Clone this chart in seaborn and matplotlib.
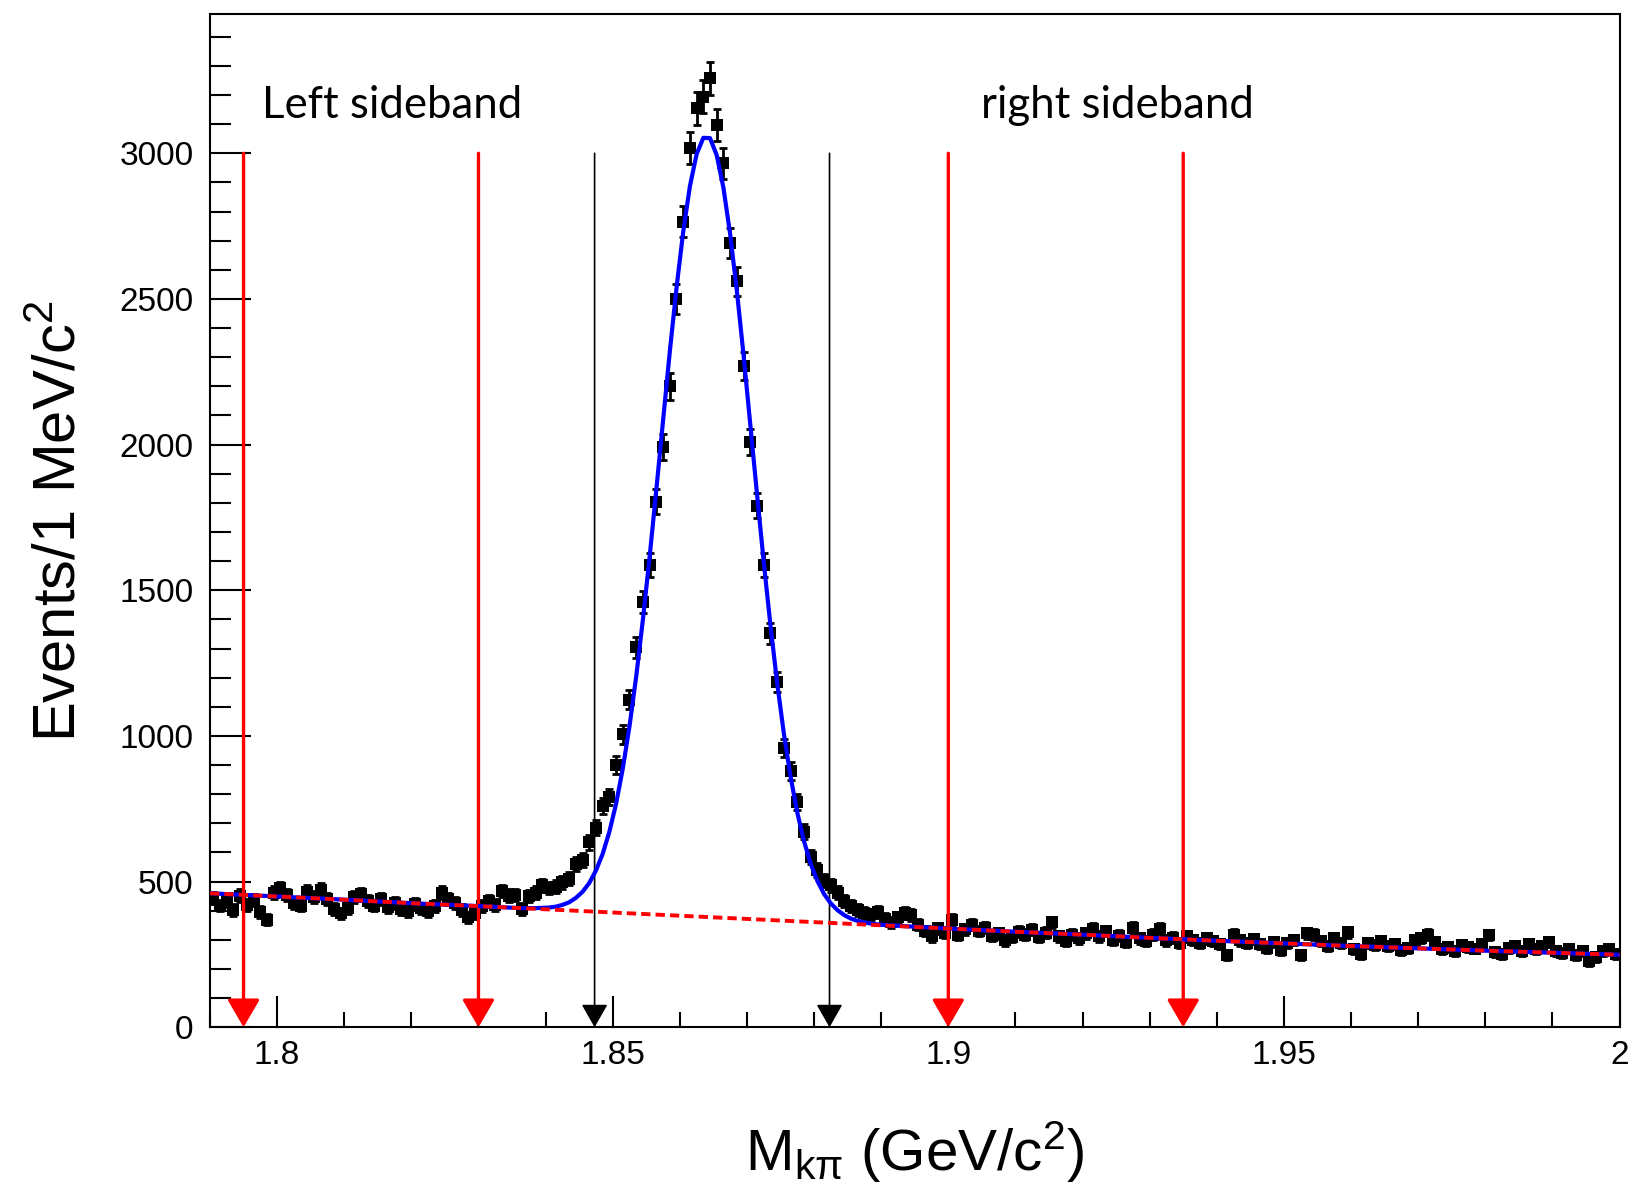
import numpy as np
import pandas as pd
import matplotlib
matplotlib.use("Agg")
import matplotlib.pyplot as plt
from matplotlib.ticker import MultipleLocator, FixedLocator, FixedFormatter
import seaborn as sns

# ---------------- data ----------------
bin_low = 1.790
bin_width = 0.001
counts = [
    445, 418, 432, 402, 452, 421, 438, 396, 370, 462,
    478, 455, 428, 418, 466, 447, 472, 441, 405, 391,
    410, 448, 456, 432, 418, 440, 412, 425, 405, 398,
    422, 408, 398, 415, 462, 440, 428, 402, 378, 392,
    415, 432, 420, 468, 452, 455, 405, 450, 462, 488,
    478, 482, 498, 510, 560, 575, 635, 685, 760, 790,
    900, 1005, 1125, 1305, 1460, 1587, 1804, 1993, 2200, 2500,
    2765, 3017, 3154, 3194, 3257, 3097, 2965, 2691, 2560, 2270,
    2010, 1790, 1587, 1352, 1186, 960, 880, 774, 671, 586,
    540, 505, 488, 462, 432, 415, 402, 392, 388, 395,
    372, 360, 378, 392, 385, 352, 330, 312, 340, 325,
    368, 318, 336, 352, 330, 342, 315, 322, 298, 310,
    328, 318, 335, 310, 325, 360, 312, 296, 318, 305,
    322, 338, 312, 330, 300, 315, 292, 342, 305, 296,
    318, 338, 298, 308, 290, 312, 300, 288, 305, 295,
    285, 248, 318, 298, 290, 302, 286, 272, 292, 265,
    288, 300, 248, 322, 318, 296, 280, 305, 290, 326,
    268, 252, 290, 282, 296, 278, 286, 265, 272, 298,
    306, 318, 292, 268, 275, 262, 282, 276, 270, 285,
    316, 258, 250, 272, 280, 262, 286, 268, 278, 292,
    262, 255, 270, 248, 262, 226, 240, 262, 268, 252,
]

# background fit (red dashed), knots every 10 MeV
bkg_x = [1.79, 1.80, 1.81, 1.82, 1.83, 1.84, 1.85, 1.86, 1.87, 1.88, 1.89,
         1.90, 1.91, 1.92, 1.93, 1.94, 1.95, 1.96, 1.97, 1.98, 1.99, 2.00]
bkg_y = [460, 449, 438, 426, 416, 405, 394, 383, 372, 361, 350,
         339, 328, 318, 307, 297, 288, 279, 271, 263, 256, 249]

# total fit (blue) sampled at bin centres across the peak, 1.8345 ... 1.8905
peak_fit_start = 1.8345
peak_fit = [
    411, 410, 409, 409, 409, 410, 411, 414, 420, 429,
    444, 465, 495, 538, 595, 671, 767, 888, 1033, 1204,
    1400, 1615, 1846, 2082, 2318, 2537, 2730, 2887, 2997, 3053,
    3052, 2993, 2881, 2722, 2527, 2306, 2068, 1830, 1597, 1380,
    1182, 1008, 860, 737, 639, 561, 502, 457, 425, 402,
    385, 373, 365, 360, 356, 353, 351,
]

sideband_edges = [1.795, 1.830, 1.900, 1.935]
signal_edges = [1.8473, 1.8823]
arrow_top = 3000

x_ticks = [1.80, 1.85, 1.90, 1.95, 2.00]
x_ticklabels = ["1.8", "1.85", "1.9", "1.95", "2"]
y_ticks = [0, 500, 1000, 1500, 2000, 2500, 3000]
y_ticklabels = ["0", "500", "1000", "1500", "2000", "2500", "3000"]
x_range = (1.79, 2.00)
y_range = (0, 3478)

# ---------------- frame ----------------
centers = bin_low + bin_width * (np.arange(len(counts)) + 0.5)
df = pd.DataFrame({"mass": centers, "events": counts})

pk_x = peak_fit_start + bin_width * np.arange(len(peak_fit))
bx = np.array(bkg_x)
by = np.array(bkg_y)
left = bx < pk_x[0]
right = bx > pk_x[-1]
fit_df = pd.DataFrame({
    "mass": np.concatenate([bx[left], pk_x, bx[right]]),
    "events": np.concatenate([by[left], np.array(peak_fit, float), by[right]]),
})
bkg_df = pd.DataFrame({"mass": bx, "events": by})

sns.set_style("white")
plt.rcParams["font.family"] = ["Liberation Sans", "DejaVu Sans"]
plt.rcParams["mathtext.fontset"] = "custom"
plt.rcParams["mathtext.rm"] = "Liberation Sans"
plt.rcParams["mathtext.it"] = "Liberation Sans:italic"
plt.rcParams["mathtext.default"] = "regular"
plt.rcParams["text.color"] = "black"
plt.rcParams["axes.labelcolor"] = "black"
plt.rcParams["xtick.color"] = "black"
plt.rcParams["ytick.color"] = "black"

W, H = 1632, 1191
fig = plt.figure(figsize=(W / 100, H / 100), dpi=100)
ax_l, ax_r, ax_t, ax_b = 210, 1619.5, 14, 1027.3
ax = fig.add_axes([ax_l / W, 1 - ax_b / H, (ax_r - ax_l) / W, (ax_b - ax_t) / H])

# error bars + square markers
ax.errorbar(df["mass"], df["events"], yerr=np.sqrt(df["events"]), fmt="none",
            ecolor="black", elinewidth=2.0, capsize=3.2, capthick=2.0, zorder=2)
sns.scatterplot(data=df, x="mass", y="events", marker="s", s=72, color="black",
                edgecolor="black", linewidth=0, ax=ax, zorder=3, legend=False)

# arrows
for xv in sideband_edges:
    ax.annotate("", xy=(xv, 0), xytext=(xv, arrow_top),
                arrowprops=dict(arrowstyle="-|>,head_length=0.86,head_width=0.5",
                                color="#ff0000", lw=2.4, shrinkA=0, shrinkB=0,
                                mutation_scale=20), zorder=4)
for xv in signal_edges:
    ax.annotate("", xy=(xv, 0), xytext=(xv, arrow_top),
                arrowprops=dict(arrowstyle="-|>,head_length=0.72,head_width=0.41",
                                color="black", lw=1.2, shrinkA=0, shrinkB=0,
                                mutation_scale=20), zorder=4)

# fit curves
sns.lineplot(data=fit_df, x="mass", y="events", color="#0000ff", lw=3.0,
             ax=ax, zorder=5, sort=False)
ax.plot(bkg_df["mass"], bkg_df["events"], color="#ff0000", lw=2.8,
        linestyle=(0, (2.4, 1.3)), zorder=6)

# axes
ax.set_xlim(*x_range)
ax.set_ylim(*y_range)
ax.xaxis.set_major_locator(FixedLocator(x_ticks))
ax.xaxis.set_major_formatter(FixedFormatter(x_ticklabels))
ax.xaxis.set_minor_locator(MultipleLocator(0.01))
ax.yaxis.set_major_locator(FixedLocator(y_ticks))
ax.yaxis.set_major_formatter(FixedFormatter(y_ticklabels))
ax.yaxis.set_minor_locator(MultipleLocator(100))

ax.tick_params(axis="x", which="major", direction="in", length=22, width=1.5,
               labelsize=24, pad=9, bottom=True, top=False, colors="black")
ax.tick_params(axis="x", which="minor", direction="in", length=11, width=1.5,
               bottom=True, top=False)
ax.tick_params(axis="y", which="major", direction="in", length=29.5, width=1.5,
               labelsize=24, pad=12, left=True, right=False, colors="black")
ax.tick_params(axis="y", which="minor", direction="in", length=14.8, width=1.5,
               left=True, right=False)
for sp in ax.spines.values():
    sp.set_visible(True)
    sp.set_color("black")
    sp.set_linewidth(1.5)

ax.set_xlabel(r"M$_{\mathregular{k\pi}}$ (GeV/c$^{\mathregular{2}}$)", fontsize=42)
ax.xaxis.label.set_va("baseline")
ax.xaxis.set_label_coords(0.5, (ax_b - 1171) / (ax_b - ax_t))
ax.set_ylabel(r"Events/1 MeV/c$^{\mathregular{2}}$", fontsize=43)
ax.yaxis.label.set_va("baseline")
ax.yaxis.set_label_coords((76 - ax_l) / (ax_r - ax_l), 0.5)

ax.text((262 - ax_l) / (ax_r - ax_l), (ax_b - 118) / (ax_b - ax_t), "Left sideband",
        transform=ax.transAxes, fontsize=31.5, family=["Lato", "DejaVu Sans"],
        color="black", va="baseline", ha="left")
ax.text((981 - ax_l) / (ax_r - ax_l), (ax_b - 118) / (ax_b - ax_t), "right sideband",
        transform=ax.transAxes, fontsize=31.5, family=["Lato", "DejaVu Sans"],
        color="black", va="baseline", ha="left")

fig.savefig("out.png", dpi=100)
